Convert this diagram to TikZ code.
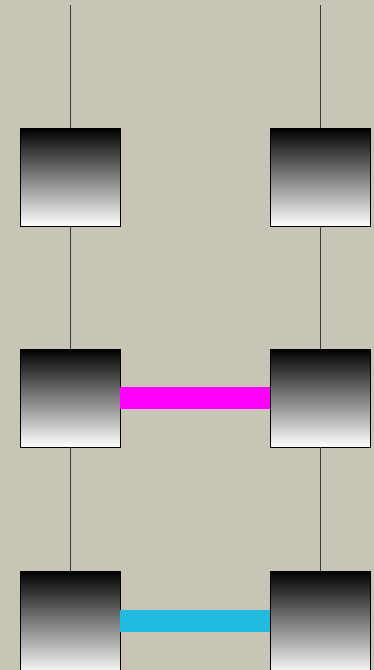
\documentclass[tikz,border=0pt]{standalone}
\usetikzlibrary{positioning}
\definecolor{bgsand}{HTML}{C9C5B6}
\definecolor{wire}{HTML}{3A3A3A}
\definecolor{barpink}{HTML}{FF00FF}
\definecolor{barcyan}{HTML}{22BBE0}

\begin{document}
\begin{tikzpicture}[x=1pt, y=1pt,
    cell/.style={rectangle, draw=black, line width=0.8pt, outer sep=0pt,
      minimum width=100pt, minimum height=98pt, top color=black, bottom color=white},
    wireline/.style={wire, line width=0.9pt},
    bar/.style={line width=22pt},
    node distance=123pt and 150pt
  ]
    \fill[bgsand] (0,0) rectangle (374,-670);
    \clip (0,0) rectangle (374,-670);
    \useasboundingbox (0,0) rectangle (374,-670);
    % columns of cells
    \node[cell] (l1) at (70,-177) {};
    \node[cell] (r1) at (320,-177) {};
    \node[cell, below=of l1] (l2) {};
    \node[cell, below=of r1] (r2) {};
    \node[cell, minimum height=104pt, anchor=north] (l3) at ([yshift=-124pt]l2.south) {};
    \node[cell, minimum height=104pt, anchor=north] (r3) at ([yshift=-124pt]r2.south) {};
    \coordinate (ltop) at (70,-5);
    \coordinate (rtop) at (320,-5);
    % wires
    \draw[wireline] (ltop) -- (l1.north);
    \draw[wireline] (rtop) -- (r1.north);
    \draw[wireline] (l1) -- (l2);
    \draw[wireline] (r1) -- (r2);
    \draw[wireline] (l2) -- (l3.north);
    \draw[wireline] (r2) -- (r3.north);
    % bars
    \draw[bar, barpink] (l2.east) -- (r2.west);
    \draw[bar, barcyan] ([yshift=-50pt]l3.north east) -- ([yshift=-50pt]r3.north west);
  \end{tikzpicture}
\end{document}
